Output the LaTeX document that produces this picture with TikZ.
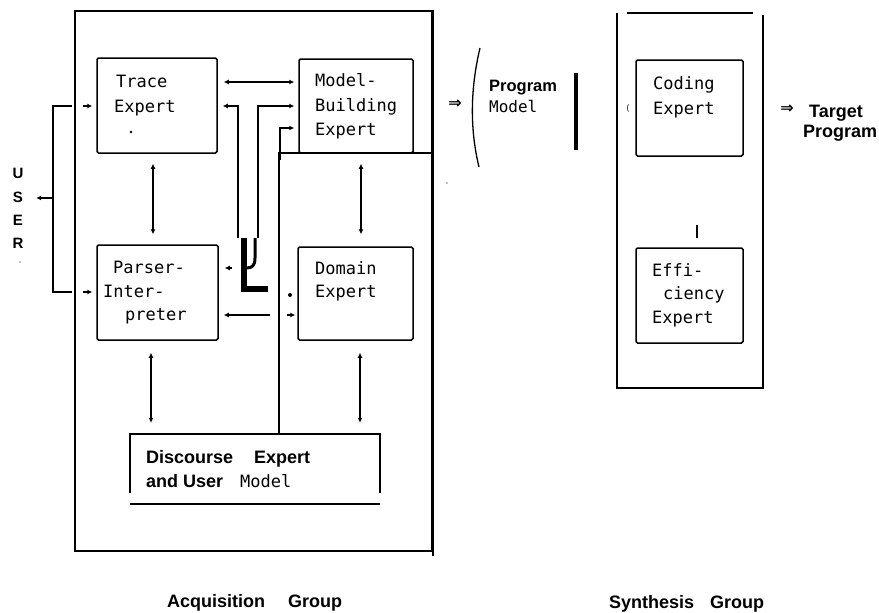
\documentclass[tikz,border=0pt]{standalone}
\usepackage{fontspec}
\setmainfont{Liberation Sans}
\newfontfamily\dmono{DejaVu Sans Mono}
\newfontfamily\djv{DejaVu Sans}
\usetikzlibrary{arrows.meta,calc}
\begin{document}
\begin{tikzpicture}[x=1pt,y=-1pt,
  box/.style={draw, line width=1.5pt, rounded corners=1.5pt, inner sep=0pt},
  frame/.style={line width=1.8pt},
  mt/.style={font=\dmono\fontsize{17}{20}\selectfont, anchor=base west, inner sep=0pt},
  bt/.style={font=\bfseries\fontsize{18}{20}\selectfont, anchor=base west, inner sep=0pt},
  imp/.style={font=\djv\bfseries\fontsize{16}{16}\selectfont, inner sep=0pt},
  tip/.style={-{Latex[length=5pt,width=5pt]}},
  both/.style={{Latex[length=5pt,width=5pt]}-{Latex[length=5pt,width=5pt]}},
  conn/.style={line width=1.2pt}
]
\useasboundingbox (0,0) rectangle (879,613);

% ---------- frames ----------
\node[draw, frame, minimum width=357pt, minimum height=540pt, inner sep=0pt] (acq) at (253.5,281) {};
\draw[frame] (acq.north east) -- ($(acq.south east)+(0,4)$);
\node[inner sep=0pt, minimum width=153pt, minimum height=280pt] (dreg) at (355.5,293) {};
\draw[frame] (dreg.south west) -- (dreg.north west) -- (dreg.north east);

\node[inner sep=0pt, minimum width=146pt, minimum height=375pt] (syn) at (690,200.5) {};
\draw[frame] (syn.north west) -- (syn.south west) -- (syn.south east) -- ($(syn.north east)+(0,2)$);
\draw[frame] ($(syn.north west)+(10,0)$) -- ($(syn.north east)+(-10,0)$);

% ---------- boxes ----------
\node[box, minimum width=120pt, minimum height=95pt] (trace) at (157,105.5) {};
\node[box, minimum width=114pt, minimum height=94pt] (mb) at (356,106) {};
\node[box, minimum width=121pt, minimum height=95pt] (parser) at (157.5,292.5) {};
\node[box, minimum width=115pt, minimum height=93pt] (domain) at (355.5,293.5) {};
\node[box, minimum width=107pt, minimum height=96pt] (coding) at (689.5,108) {};
\node[box, minimum width=107pt, minimum height=95pt] (eff) at (689.5,295.5) {};
\node[inner sep=0pt, minimum width=250pt, minimum height=70pt] (disc) at (255,469) {};
\draw[frame] ($(disc.north west)+(0,59)$) -- (disc.north west) -- (disc.north east) -- ($(disc.north east)+(0,59)$);
\draw[frame] (disc.south west) -- (disc.south east);

% ---------- texts ----------
\node[mt] (t1) at (116,87) {Trace};
\node[mt] (t2) at (114,112) {Expert};
\node[mt] (m1) at (315,86) {Model-};
\node[mt] (m2) at (315,111) {Building};
\node[mt] (m3) at (315,135) {Expert};
\node[mt] (p1) at (113,273) {Parser-};
\node[mt] (p2) at (103,297) {Inter-};
\node[mt] (p3) at (125,320) {preter};
\node[mt] (d1) at (315,274) {Domain};
\node[mt] (d2) at (315,297) {Expert};
\node[mt] (c1) at (653,89) {Coding};
\node[mt] (c2) at (653,114) {Expert};
\node[mt] (e1) at (652,276) {Effi-};
\node[mt] (e2) at (663,299) {ciency};
\node[mt] (e3) at (652,323) {Expert};
\node[bt, font=\bfseries\fontsize{16.5}{20}\selectfont] (pm1) at (489,91) {Program};
\node[mt, font=\dmono\fontsize{16}{20}\selectfont] (pm2) at (489,112) {Model};
\node[bt] (tp1) at (809,117) {Target};
\node[bt] (tp2) at (803,137) {Program};
\node[bt] (ds1) at (146,463) {Discourse};
\node[bt] (ds2) at (254,463) {Expert};
\node[bt] (ds3) at (146,487) {and User};
\node[mt] (ds4) at (240,487) {Model};
\node[bt] (ag1) at (167,607) {Acquisition};
\node[bt] (ag2) at (288,607) {Group};
\node[bt] (sg1) at (609,608) {Synthesis};
\node[bt] (sg2) at (710,608) {Group};
\node[bt, font=\bfseries\fontsize{15}{18}\selectfont, anchor=base] (u1) at (18,178) {U};
\node[bt, font=\bfseries\fontsize{15}{18}\selectfont, anchor=base] (u2) at (18,202) {S};
\node[bt, font=\bfseries\fontsize{15}{18}\selectfont, anchor=base] (u3) at (18,225) {E};
\node[bt, font=\bfseries\fontsize{15}{18}\selectfont, anchor=base] (u4) at (18,248) {R};
\node[imp] (imp1) at (455,104) {⇒};
\node[imp] (imp2) at (787,109) {⇒};
\node[font=\fontsize{8}{8}\selectfont, inner sep=0pt] (par) at (628,108) {(};

% ---------- shapes ----------
\draw[line width=1.3pt] (480,48) .. controls (470,90) and (470,130) .. (479,167);
\draw[line width=4pt] (576,73) -- (576,150);
\draw[line width=2.5pt] (697,225) -- (697,238);
\draw[line width=6pt] (244,238) -- (244,289) -- (268,289);
\draw[line width=3pt] (255,238) -- (255,258) .. controls (255,266) and (252,268) .. (246,268);
\fill (131,132) circle (1.3pt);
\fill (290,295) circle (2pt);
\fill (20,262) circle (0.7pt);
\fill (447,183) circle (0.7pt);

% ---------- helper coordinates ----------
\coordinate (r82) at (0,82);
\coordinate (r106) at (0,106);
\coordinate (r128) at (0,128);
\coordinate (ub) at (53,198);
\coordinate (ua) at (83,106);
\coordinate (ub2) at (83,292);
\coordinate (l1) at (238,238);
\coordinate (l2) at (258,238);
\coordinate (l3) at (280,160);
\coordinate (l4) at (232,268);
\coordinate (l5) at (270,315);
\coordinate (l6) at (287,315);
\coordinate (c153) at (153,0);
\coordinate (c361) at (361,0);
\coordinate (c151) at (151,0);
\coordinate (c360) at (360,0);

% ---------- connectors ----------
\draw[line width=2.2pt] (72,106) -- (53,106) -- (53,292) -- (72,292);
\draw[conn,tip,shorten >=13pt] (ub) -- (u2.east |- ub);
\draw[conn,tip,shorten >=4pt] (ua) -- (trace.west |- ua);
\draw[conn,tip,shorten >=4pt] (ub2) -- (parser.west |- ub2);

\draw[conn,both,shorten <=6pt,shorten >=4pt] (trace.east |- r82) -- (mb.west |- r82);
\draw[conn,tip,shorten >=5pt] (l1) |- (trace.east |- r106);
\draw[conn,tip,shorten >=4pt] (l2) |- (mb.west |- r106);
\draw[conn,tip,shorten >=4pt] (l3) |- (mb.west |- r128);
\draw[conn,tip,shorten >=6pt] (l4) -- (parser.east |- l4);
\draw[conn,tip,shorten >=5pt] (l5) -- (parser.east |- l5);
\draw[conn,tip,shorten >=2pt] (l6) -- (domain.west |- l6);

\draw[conn,both,shorten <=10pt,shorten >=10pt] (trace.south -| c153) -- (parser.north -| c153);
\draw[conn,both,shorten <=10pt,shorten >=12pt] (mb.south -| c361) -- (domain.north -| c361);
\draw[conn,both,shorten <=12pt,shorten >=11pt] (parser.south -| c151) -- (disc.north -| c151);
\draw[conn,both,shorten <=12pt,shorten >=11pt] (domain.south -| c360) -- (disc.north -| c360);
\end{tikzpicture}
\end{document}
